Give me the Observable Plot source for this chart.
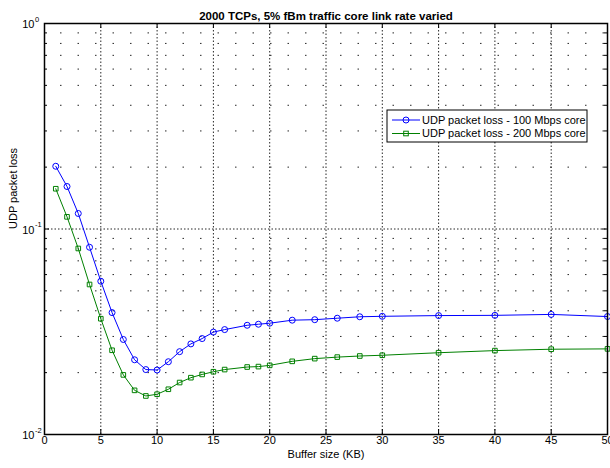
<!DOCTYPE html>
<html>
<head>
<meta charset="utf-8">
<script src="https://cdn.jsdelivr.net/npm/d3@7"></script>
<script src="https://cdn.jsdelivr.net/npm/@observablehq/plot@0.6"></script>
<style>
  body { margin: 0; background: #fff; }
  #chart svg { display: block; }
</style>
</head>
<body>
<div id="chart"></div>
<script>
// Buffer sizes (KB) at which UDP loss was measured
const bufferKB = [1, 2, 3, 4, 5, 6, 7, 8, 9, 10, 11, 12, 13, 14, 15, 16, 18, 19, 20, 22, 24, 26, 28, 30, 35, 40, 45, 50];
// UDP packet loss with a 100 Mbps core link
const loss100 = [0.202, 0.161, 0.119, 0.0815, 0.0557, 0.0392, 0.0290, 0.0231, 0.0207, 0.0206, 0.0226, 0.0253, 0.0276, 0.0293, 0.0315, 0.0324, 0.0340, 0.0344, 0.0348, 0.0360, 0.0362, 0.0368, 0.0374, 0.0376, 0.0379, 0.0380, 0.0384, 0.0375];
// UDP packet loss with a 200 Mbps core link
const loss200 = [0.157, 0.1146, 0.0804, 0.0537, 0.0366, 0.0257, 0.0195, 0.0164, 0.0154, 0.0157, 0.0166, 0.0179, 0.0189, 0.0196, 0.0202, 0.0207, 0.0213, 0.0214, 0.0217, 0.0227, 0.0234, 0.0238, 0.0241, 0.0243, 0.0250, 0.0256, 0.0260, 0.0261];

const seriesNames = ["UDP packet loss - 100 Mbps core", "UDP packet loss - 200 Mbps core"];
const seriesColors = ["#0000ff", "#008000"];
const seriesSymbols = ["circle", "square"];

const xTicks = [0, 5, 10, 15, 20, 25, 30, 35, 40, 45, 50];
const yDecades = [0.01, 0.1, 1];
const yMinor = [0.02, 0.03, 0.04, 0.05, 0.06, 0.07, 0.08, 0.09, 0.2, 0.3, 0.4, 0.5, 0.6, 0.7, 0.8, 0.9];

const titleText = "2000 TCPs, 5% fBm traffic core link rate varied";
const xLabel = "Buffer size (KB)";
const yLabel = "UDP packet loss";

const W = 610, H = 468;
const mL = 44, mR = 3, mT = 23, mB = 34;
const innerW = W - mL - mR, innerH = H - mT - mB;

const rows = [];
bufferKB.forEach((b, i) => {
  rows.push({buf: b, loss: loss100[i], s: 0});
  rows.push({buf: b, loss: loss200[i], s: 1});
});

const grid = {stroke: "#000", strokeWidth: 1, strokeOpacity: 0.85};
const font = "Liberation Sans, Arial, Helvetica, sans-serif";

const chart = Plot.plot({
  width: W,
  height: H,
  marginLeft: mL,
  marginRight: mR,
  marginTop: mT,
  marginBottom: mB,
  style: {fontFamily: font, fontSize: "11px", color: "#000", background: "#fff"},
  x: {domain: [0, 50], axis: null},
  y: {type: "log", domain: [0.01, 1], axis: null},
  marks: [
    // grid
    Plot.ruleX(xTicks.slice(1, -1), {...grid, strokeDasharray: "1.5,2"}),
    Plot.ruleY([0.1], {...grid, strokeDasharray: "1.5,2"}),
    Plot.ruleY(yMinor, {...grid, strokeDasharray: "1.5,16", strokeDashoffset: -16}),
    // inward ticks on all four sides
    Plot.ruleX(xTicks, {stroke: "#000", insetTop: innerH - 5}),
    Plot.ruleX(xTicks, {stroke: "#000", insetBottom: innerH - 5}),
    Plot.ruleY(yDecades, {stroke: "#000", insetRight: innerW - 5}),
    Plot.ruleY(yDecades, {stroke: "#000", insetLeft: innerW - 5}),
    Plot.ruleY(yMinor, {stroke: "#000", insetRight: innerW - 3}),
    Plot.ruleY(yMinor, {stroke: "#000", insetLeft: innerW - 3}),
    // series
    Plot.line(rows, {x: "buf", y: "loss", z: "s", stroke: d => seriesColors[d.s], strokeWidth: 1}),
    Plot.dot(rows.filter(d => d.s === 0), {x: "buf", y: "loss", r: 3, symbol: "circle", stroke: seriesColors[0], fill: "none", strokeWidth: 1}),
    Plot.dot(rows.filter(d => d.s === 1), {x: "buf", y: "loss", r: 2.6, symbol: "square", stroke: seriesColors[1], fill: "none", strokeWidth: 1}),
    Plot.frame({stroke: "#000", strokeWidth: 1.5}),
    // x tick labels
    Plot.text(xTicks, {x: d => d, frameAnchor: "bottom", dy: 9, text: d => String(d), fontSize: 11, fill: "#000"}),
    // y tick labels: base 10 with superscript exponent
    Plot.text(yDecades, {y: d => d, frameAnchor: "left", dx: -10, dy: 1, textAnchor: "end", text: () => "10", fontSize: 11, fill: "#000"}),
    Plot.text(yDecades, {y: d => d, frameAnchor: "left", dx: -9.5, dy: -4, textAnchor: "start", text: d => String(Math.round(Math.log10(d))), fontSize: 7.5, fill: "#000"}),
    // title and axis labels
    Plot.text([titleText], {frameAnchor: "top", dy: -12, text: d => d, fontWeight: "bold", fontSize: 11.5, fill: "#000"}),
    Plot.text([xLabel], {frameAnchor: "bottom", dy: 23, text: d => d, fontSize: 11, fill: "#000"}),
    Plot.text([yLabel], {frameAnchor: "left", dx: -31, rotate: -90, text: d => d, fontSize: 11, fill: "#000"})
  ]
});

// legend box inside the plot area
const svg = d3.select(chart);
const lg = svg.append("g").attr("font-family", font).attr("font-size", 11).attr("text-anchor", "start");
const lx = 387, ly = 110, lw = 200, lh = 32;
lg.append("rect").attr("x", lx).attr("y", ly).attr("width", lw).attr("height", lh)
  .attr("fill", "#fff").attr("stroke", "#000").attr("stroke-width", 1);
seriesNames.forEach((name, i) => {
  const cy = ly + 10 + i * 13.5;
  lg.append("line").attr("x1", lx + 5).attr("x2", lx + 33).attr("y1", cy).attr("y2", cy)
    .attr("stroke", seriesColors[i]).attr("stroke-width", 1);
  if (seriesSymbols[i] === "circle") {
    lg.append("circle").attr("cx", lx + 19).attr("cy", cy).attr("r", 3)
      .attr("fill", "none").attr("stroke", seriesColors[i]);
  } else {
    lg.append("rect").attr("x", lx + 16.7).attr("y", cy - 2.3).attr("width", 4.6).attr("height", 4.6)
      .attr("fill", "none").attr("stroke", seriesColors[i]);
  }
  lg.append("text").attr("x", lx + 35).attr("y", cy).attr("dy", "0.35em")
    .attr("text-anchor", "start").attr("fill", "#000").text(name);
});

document.getElementById("chart").appendChild(chart);
</script>
</body>
</html>
